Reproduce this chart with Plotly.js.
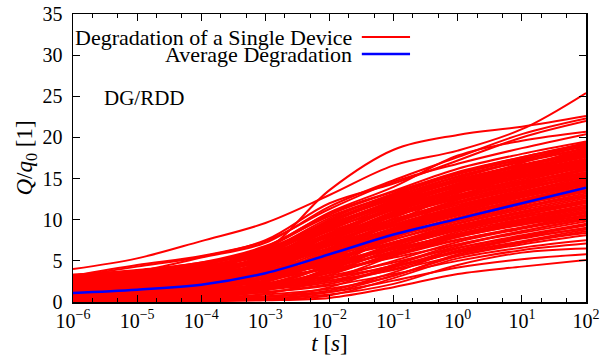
<!DOCTYPE html>
<html><head><meta charset="utf-8">
<script src="https://cdn.plot.ly/plotly-3.0.1.min.js"></script>
<style>html,body{margin:0;padding:0;background:#fff}</style>
</head><body><div id="chart" style="width:602px;height:360px"></div>
<script>
// time points (s), one per decade
const timeS = [1e-6, 1e-5, 1e-4, 1e-3, 1e-2, 1e-1, 1e0, 1e1, 1e2];

// Q/q0 of single devices, read at each decade
const singleDevices = [
  [0.0, 0.05, 0.1, 0.2, 0.5, 1.8, 3.4, 4.3, 5.1],
  [0.1, 0.15, 0.3, 0.6, 1.2, 2.6, 4.2, 5.2, 5.8],
  [0.05, 0.1, 0.2, 0.4, 0.9, 2.2, 4.5, 6.0, 6.5],
  [0.3, 0.5, 0.8, 1.2, 2.0, 3.4, 5.0, 6.3, 7.1],
  [0.0, 0.1, 0.2, 0.3, 0.8, 2.9, 5.3, 6.6, 7.5],
  [0.6, 0.9, 1.3, 1.8, 2.6, 3.9, 5.6, 7.0, 8.1],
  [0.2, 0.3, 0.5, 0.9, 1.6, 3.2, 5.8, 7.3, 8.4],
  [1.0, 1.3, 1.7, 2.3, 3.0, 4.3, 6.0, 7.4, 8.8],
  [0.1, 0.2, 0.4, 0.7, 1.4, 3.6, 6.3, 7.8, 9.0],
  [0.4, 0.6, 1.0, 1.5, 2.4, 4.2, 6.5, 8.0, 9.3],
  [0.8, 1.1, 1.5, 2.1, 3.2, 4.8, 6.6, 8.1, 9.5],
  [0.0, 0.1, 0.3, 0.6, 1.8, 4.5, 7.0, 8.4, 9.8],
  [1.4, 1.8, 2.3, 3.0, 4.0, 5.4, 7.0, 8.6, 10.0],
  [0.3, 0.5, 0.9, 1.6, 2.9, 5.0, 7.3, 8.9, 10.2],
  [0.7, 1.0, 1.4, 2.2, 3.6, 5.6, 7.5, 9.0, 10.4],
  [1.8, 2.2, 2.7, 3.4, 4.4, 5.9, 7.6, 9.1, 10.6],
  [0.2, 0.4, 0.8, 1.9, 3.5, 5.6, 7.9, 9.4, 10.8],
  [1.1, 1.4, 1.9, 2.8, 4.2, 6.1, 8.0, 9.6, 11.0],
  [0.5, 0.8, 1.2, 2.0, 3.8, 6.2, 8.3, 9.8, 11.2],
  [2.2, 2.6, 3.1, 3.8, 4.9, 6.4, 8.2, 9.9, 11.4],
  [0.0, 0.2, 0.5, 1.4, 3.3, 6.0, 8.5, 10.1, 11.6],
  [1.5, 1.9, 2.5, 3.4, 4.8, 6.7, 8.7, 10.3, 11.8],
  [0.9, 1.2, 1.7, 2.6, 4.3, 6.6, 8.8, 10.5, 12.0],
  [2.6, 3.0, 3.5, 4.3, 5.5, 7.0, 8.9, 10.6, 12.2],
  [0.4, 0.7, 1.1, 2.2, 4.4, 7.0, 9.2, 10.8, 12.4],
  [1.3, 1.6, 2.2, 3.3, 5.1, 7.3, 9.3, 11.0, 12.6],
  [0.1, 0.3, 0.7, 1.7, 4.0, 7.1, 9.5, 11.2, 12.8],
  [2.0, 2.4, 3.0, 4.0, 5.6, 7.6, 9.6, 11.4, 13.0],
  [0.6, 0.9, 1.4, 2.6, 4.9, 7.6, 9.8, 11.6, 13.2],
  [1.7, 2.1, 2.7, 3.8, 5.7, 8.0, 10.0, 11.8, 13.4],
  [2.9, 3.3, 3.9, 4.9, 6.3, 8.1, 10.1, 12.0, 13.6],
  [0.3, 0.6, 1.1, 2.4, 5.0, 8.0, 10.3, 12.1, 13.8],
  [1.2, 1.6, 2.2, 3.5, 5.8, 8.4, 10.5, 12.3, 14.0],
  [2.4, 2.8, 3.4, 4.5, 6.4, 8.7, 10.7, 12.5, 14.2],
  [0.8, 1.1, 1.7, 3.0, 5.6, 8.6, 10.9, 12.7, 14.4],
  [1.9, 2.3, 2.9, 4.2, 6.5, 9.0, 11.1, 12.9, 14.6],
  [3.1, 3.5, 4.1, 5.2, 7.0, 9.2, 11.2, 13.0, 14.8],
  [0.2, 0.5, 1.0, 2.5, 5.6, 8.9, 11.4, 13.2, 15.0],
  [1.4, 1.8, 2.5, 4.0, 6.6, 9.4, 11.6, 13.4, 15.2],
  [2.7, 3.1, 3.7, 5.0, 7.2, 9.7, 11.8, 13.6, 15.4],
  [0.9, 1.3, 2.0, 3.6, 6.5, 9.6, 12.0, 13.8, 15.6],
  [2.1, 2.5, 3.2, 4.7, 7.3, 10.0, 12.2, 14.0, 15.8],
  [0.5, 0.8, 1.5, 3.2, 6.4, 9.8, 12.4, 14.3, 16.0],
  [3.3, 3.8, 4.4, 5.7, 7.9, 10.4, 12.6, 14.5, 16.2],
  [1.6, 2.0, 2.7, 4.4, 7.4, 10.5, 12.8, 14.7, 16.4],
  [2.5, 2.9, 3.6, 5.2, 8.0, 10.8, 13.0, 14.9, 16.6],
  [1.0, 1.4, 2.2, 4.1, 7.5, 10.9, 13.3, 15.1, 16.8],
  [3.0, 3.5, 4.2, 5.8, 8.6, 11.2, 13.5, 15.4, 17.0],
  [1.8, 2.3, 3.0, 4.9, 8.3, 11.4, 13.7, 15.6, 17.2],
  [2.3, 2.8, 3.6, 5.5, 8.8, 11.7, 14.0, 15.8, 17.4],
  [0.7, 1.1, 2.0, 4.3, 8.2, 11.6, 14.1, 16.0, 17.6],
  [2.8, 3.3, 4.1, 6.0, 9.3, 12.0, 14.4, 16.3, 17.8],
  [1.3, 1.8, 2.7, 5.0, 8.9, 12.2, 14.6, 16.5, 18.0],
  [3.2, 3.7, 4.5, 6.4, 9.8, 12.5, 14.9, 16.7, 18.3],
  [2.0, 2.6, 3.5, 5.7, 9.6, 12.7, 15.2, 17.0, 18.6],
  [2.6, 3.1, 4.0, 6.2, 10.2, 13.0, 15.5, 17.3, 18.9],
  [1.5, 2.1, 3.1, 5.6, 10.0, 13.2, 15.8, 17.6, 19.2],
  [3.0, 3.6, 4.6, 6.7, 10.8, 13.5, 16.2, 18.0, 19.5],
  [2.4, 3.0, 4.0, 6.5, 10.6, 13.4, 15.6, 17.4, 19.0],
  [1.2, 1.5, 2.0, 3.0, 4.6, 6.5, 8.1, 9.4, 10.5],
  [2.1, 2.5, 3.0, 3.9, 5.3, 7.2, 9.0, 10.4, 11.5],
  [0.3, 0.5, 0.9, 1.8, 3.9, 6.8, 9.1, 10.9, 12.1],
  [1.6, 2.0, 2.6, 3.7, 5.6, 7.9, 9.9, 11.5, 12.9],
  [2.8, 3.2, 3.8, 4.8, 6.5, 8.6, 10.6, 12.2, 13.5],
  [0.6, 0.9, 1.5, 2.9, 5.4, 8.2, 10.6, 12.4, 13.9],
  [1.9, 2.4, 3.1, 4.6, 7.0, 9.4, 11.4, 13.0, 14.3],
  [1.0, 1.4, 2.0, 3.4, 6.0, 9.0, 11.5, 13.3, 14.9],
  [2.5, 3.0, 3.7, 5.1, 7.6, 10.1, 12.1, 13.8, 15.3],
  [0.4, 0.7, 1.3, 3.0, 6.2, 9.6, 12.2, 14.1, 15.7],
  [3.1, 3.6, 4.3, 5.6, 8.0, 10.6, 12.7, 14.5, 16.0],
  [1.7, 2.2, 2.9, 4.6, 7.6, 10.7, 13.0, 14.9, 16.5],
  [2.2, 2.7, 3.5, 5.3, 8.4, 11.3, 13.6, 15.4, 16.9],
  [1.1, 1.6, 2.5, 4.5, 8.0, 11.3, 13.8, 15.7, 17.3],
  [2.9, 3.4, 4.2, 6.0, 9.1, 11.9, 14.2, 16.1, 17.7],
  [1.9, 2.5, 3.4, 5.5, 9.2, 12.3, 14.7, 16.6, 18.2],
  [2.7, 3.2, 4.1, 6.2, 9.9, 12.8, 15.3, 17.1, 18.7],
  [3.3, 3.9, 4.8, 6.8, 10.4, 13.1, 15.7, 17.6, 19.3],
  [1.4, 1.9, 2.8, 5.0, 8.7, 11.8, 14.3, 16.2, 17.9],
  [2.3, 2.9, 3.8, 6.0, 9.7, 12.6, 14.8, 16.6, 18.1],
  [0.9, 1.3, 2.1, 4.0, 7.6, 11.0, 13.4, 15.2, 16.7],
  [1.5, 2.0, 2.8, 4.7, 8.1, 11.2, 13.5, 15.3, 16.8],
  [0.2, 0.4, 0.8, 2.0, 4.6, 7.8, 10.2, 12.0, 13.4],
  [0.7, 1.0, 1.6, 2.9, 5.3, 8.3, 10.8, 12.8, 14.5],
  [3.0, 3.4, 4.0, 5.3, 7.4, 9.8, 11.8, 13.4, 14.9],
  [1.3, 1.7, 2.3, 3.6, 6.0, 8.8, 11.0, 12.8, 14.2],
  [2.4, 2.8, 3.4, 4.6, 6.8, 9.3, 11.4, 13.1, 14.6],
  [0.1, 0.3, 0.6, 1.5, 3.6, 6.5, 9.0, 10.8, 12.3],
  [0.5, 0.8, 1.2, 2.0, 3.6, 5.8, 7.9, 9.5, 10.9],
  [1.8, 2.1, 2.6, 3.4, 4.7, 6.4, 8.2, 9.7, 11.0],
  [0.0, 0.1, 0.3, 1.0, 2.8, 5.6, 8.2, 10.0, 11.5],
  [0.3, 0.4, 0.7, 1.2, 2.2, 4.0, 6.1, 7.7, 9.0],
  [0.9, 1.1, 1.5, 2.0, 2.9, 4.4, 6.2, 7.9, 9.4],
  [0.0, 0.05, 0.15, 0.4, 1.2, 3.2, 5.6, 7.2, 8.6],
  [0.6, 0.8, 1.1, 1.6, 2.6, 4.5, 6.8, 8.6, 10.1],
  [2.9, 3.6, 4.5, 6.3, 9.0, 11.2, 12.9, 14.3, 15.5],
  [2.5, 3.2, 4.2, 6.1, 9.4, 12.1, 13.9, 15.2, 16.3],
  [1.6, 2.2, 3.3, 5.8, 9.8, 12.9, 14.8, 16.1, 17.1],
  [0.4, 0.6, 1.0, 2.0, 4.5, 8.6, 12.6, 15.6, 18.4],
  [1.0, 1.3, 1.8, 3.0, 5.8, 9.7, 13.2, 15.9, 18.0],
  [2.2, 2.6, 3.2, 4.4, 6.9, 10.2, 13.4, 16.2, 18.8],
  [1.7, 2.3, 3.2, 5.2, 8.9, 12.2, 14.2, 15.8, 17.0],
  [3.2, 3.8, 4.7, 6.5, 9.5, 12.2, 14.0, 15.6, 16.9],
  [0.8, 1.2, 1.9, 3.6, 7.0, 10.4, 12.5, 14.0, 15.1],
  [2.6, 3.1, 3.8, 5.4, 8.3, 11.5, 14.1, 16.4, 18.5],
  [0.0, 0.1, 0.4, 1.4, 4.2, 8.0, 11.0, 13.0, 14.6],
  [1.2, 1.6, 2.4, 4.3, 7.8, 11.5, 14.4, 16.9, 19.1],
  [3.0, 3.5, 4.3, 6.1, 9.2, 11.8, 13.4, 14.6, 15.7],
  [2.3, 2.8, 3.6, 5.5, 9.0, 12.4, 15.0, 17.2, 19.4],
  [4.0, 5.3, 7.4, 9.6, 13.0, 16.6, 18.4, 21.0, 25.4],
  [3.0, 3.8, 4.8, 6.4, 13.6, 18.5, 20.3, 21.3, 22.6],
  [2.8, 3.7, 5.4, 7.2, 11.6, 14.8, 17.6, 20.4, 22.3],
  [3.1, 4.3, 5.5, 7.5, 12.0, 14.4, 17.2, 20.0, 22.0],
  [2.7, 3.6, 4.6, 6.6, 10.9, 14.0, 17.8, 19.6, 20.7],
  [3.2, 4.5, 5.6, 7.4, 11.3, 14.6, 16.8, 18.7, 20.4]
];

// average degradation
const averageDegradation = [1.1, 1.5, 2.1, 3.5, 5.8, 8.2, 10.1, 12.0, 13.9];

const MINUS = '\u2212';
const xTickVals = [1e-6, 1e-5, 1e-4, 1e-3, 1e-2, 1e-1, 1e0, 1e1, 1e2];
const xTickText = ['10<sup>' + MINUS + '6</sup>', '10<sup>' + MINUS + '5</sup>', '10<sup>' + MINUS + '4</sup>',
  '10<sup>' + MINUS + '3</sup>', '10<sup>' + MINUS + '2</sup>', '10<sup>' + MINUS + '1</sup>',
  '10<sup>0</sup>', '10<sup>1</sup>', '10<sup>2</sup>'];
const yTickVals = [0, 5, 10, 15, 20, 25, 30, 35];

const legendLabels = ['Degradation of a Single Device', 'Average Degradation'];
const noteText = 'DG/RDD';

const SERIF = 'Liberation Serif';

const traces = singleDevices.map(v => ({
  x: timeS, y: v, type: 'scatter', mode: 'lines',
  line: {color: '#ff0000', width: 2.0, shape: 'spline', smoothing: 1},
  showlegend: false, hoverinfo: 'skip'
}));
traces.push({
  x: timeS, y: averageDegradation, type: 'scatter', mode: 'lines',
  line: {color: '#0000ff', width: 2.5, shape: 'spline', smoothing: 1},
  showlegend: false, hoverinfo: 'skip'
});

const layout = {
  width: 602, height: 360,
  margin: {l: 73, r: 16, t: 14, b: 58},
  showlegend: false,
  xaxis: {
    type: 'log', range: [-6, 2], tickvals: xTickVals, ticktext: xTickText,
    showline: true, linecolor: 'black', linewidth: 1.5, mirror: 'ticks',
    ticks: 'inside', ticklen: 7, tickcolor: 'black',
    showgrid: false, zeroline: false,
    tickfont: {family: SERIF, size: 20, color: 'black'},
    minor: {ticks: 'inside', ticklen: 4, tickcolor: 'black', showgrid: false},
    title: {text: '<i>t</i> [<i>s</i>]', font: {family: SERIF, size: 23, color: 'black'}, standoff: 4}
  },
  yaxis: {
    range: [0, 35], tickvals: yTickVals,
    showline: true, linecolor: 'black', linewidth: 1.5, mirror: 'ticks',
    ticks: 'inside', ticklen: 7, tickcolor: 'black',
    showgrid: false, zeroline: false, ticklabelstandoff: 5,
    tickfont: {family: SERIF, size: 20, color: 'black'},
    title: {text: '<i>Q</i>/<i>q</i><sub>0</sub> [1]', font: {family: SERIF, size: 23, color: 'black'}, standoff: 3}
  },
  annotations: [
    {xref: 'paper', yref: 'paper', x: 0.548, y: 0.920, xanchor: 'right', yanchor: 'middle',
     text: legendLabels[0], showarrow: false, font: {family: SERIF, size: 22, color: 'black'}},
    {xref: 'paper', yref: 'paper', x: 0.548, y: 0.861, xanchor: 'right', yanchor: 'middle',
     text: legendLabels[1], showarrow: false, font: {family: SERIF, size: 22, color: 'black'}},
    {xref: 'paper', yref: 'paper', x: 0.056, y: 0.708, xanchor: 'left', yanchor: 'middle',
     text: noteText, showarrow: false, font: {family: SERIF, size: 21, color: 'black'}}
  ],
  shapes: [
    {type: 'line', xref: 'paper', yref: 'paper', x0: 0.563, x1: 0.657, y0: 0.920, y1: 0.920,
     line: {color: '#ff0000', width: 2}},
    {type: 'line', xref: 'paper', yref: 'paper', x0: 0.563, x1: 0.657, y0: 0.861, y1: 0.861,
     line: {color: '#0000ff', width: 2.5}}
  ]
};

Plotly.newPlot('chart', traces, layout, {staticPlot: true});
</script></body></html>
